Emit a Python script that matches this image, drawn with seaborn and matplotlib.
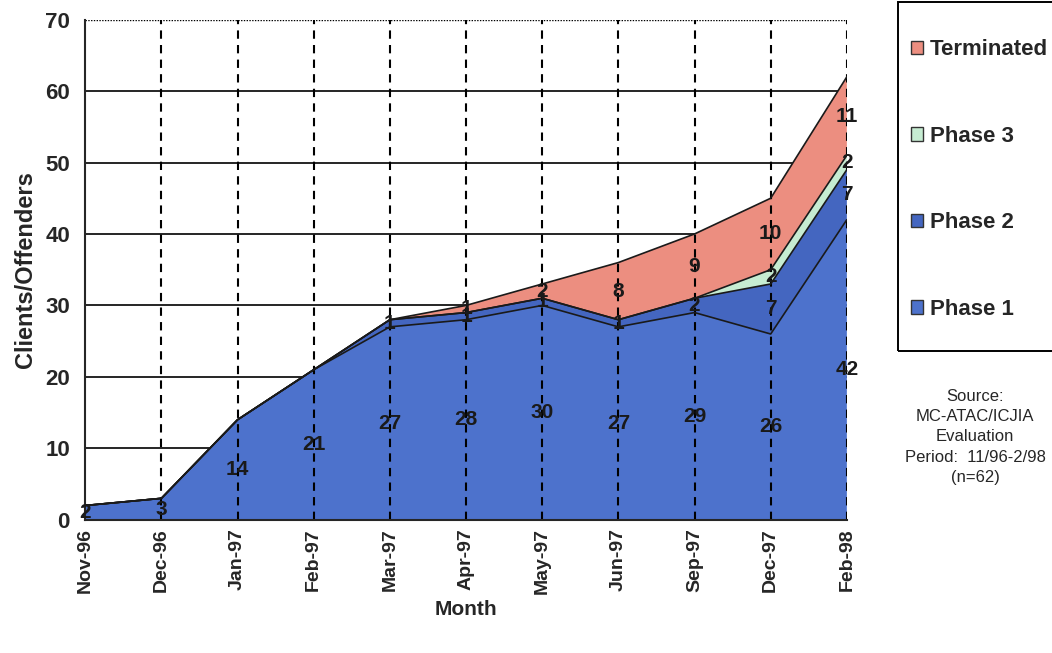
import numpy as np
import pandas as pd
import matplotlib
matplotlib.use("Agg")
import matplotlib.pyplot as plt
import seaborn as sns

months = ["Nov-96", "Dec-96", "Jan-97", "Feb-97", "Mar-97", "Apr-97",
          "May-97", "Jun-97", "Sep-97", "Dec-97", "Feb-98"]
phase1 = [2, 3, 14, 21, 27, 28, 30, 27, 29, 26, 42]
phase2 = [0, 0, 0, 0, 1, 1, 1, 1, 2, 7, 7]
phase3 = [0, 0, 0, 0, 0, 0, 0, 0, 0, 2, 2]
terminated = [0, 0, 0, 0, 0, 1, 2, 8, 9, 10, 11]

series = ["Phase 1", "Phase 2", "Phase 3", "Terminated"]
colors = ["#4d72cc", "#4466c0", "#c6ecd2", "#ec8e80"]

sns.set_style("white")
plt.rcParams["font.family"] = ["Liberation Sans", "DejaVu Sans"]

df = pd.DataFrame({"Month": months, "Phase 1": phase1, "Phase 2": phase2,
                   "Phase 3": phase3, "Terminated": terminated})
x = np.arange(len(months))
vals = df[series].to_numpy().T
cum = np.cumsum(vals, axis=0)

fig = plt.figure(figsize=(10.52, 6.53), dpi=100)
ax = fig.add_axes([0.081, 0.204, 0.724, 0.766])

ax.stackplot(x, vals, colors=colors, edgecolor="none", zorder=1)
for i in range(len(series)):
    sns.lineplot(x=x, y=cum[i], ax=ax, color="#1a1a1a", linewidth=1.2, zorder=3)

# grid
for yv in range(10, 70, 10):
    ax.axhline(yv, color="black", linewidth=1.2, zorder=0.5)
ax.axhline(70, color="black", linewidth=1, linestyle=(0, (1, 1)), zorder=0.5)
for xi in x[1:]:
    ax.axvline(xi, color="black", linewidth=1.5, linestyle=(0, (4, 3)), zorder=2)

# value labels in the middle of each band
lo = np.vstack([np.zeros(len(x)), cum[:-1]])
for i in range(len(series)):
    for j in range(len(x)):
        v = vals[i][j]
        if v == 0:
            continue
        ax.text(x[j], (lo[i][j] + cum[i][j]) / 2, str(v), ha="center", va="center",
                fontsize=15, fontweight="bold", color="#1a1a1a", zorder=4)

ax.set_xlim(0, len(x) - 1)
ax.set_ylim(0, 70)
ax.set_yticks(range(0, 80, 10))
ax.set_xticks(x)
ax.set_xticklabels(months, rotation=90, fontsize=14, fontweight="bold")
ax.tick_params(axis="y", labelsize=16, length=7, width=1.2, direction="out", pad=4)
ax.tick_params(axis="x", length=0, pad=6)
for lab in ax.get_yticklabels():
    lab.set_fontweight("bold")
ax.set_ylabel("Clients/Offenders", fontsize=17, fontweight="bold", labelpad=6)
ax.set_xlabel("Month", fontsize=15, fontweight="bold", labelpad=4)
for s in ["top", "right"]:
    ax.spines[s].set_visible(False)
ax.spines["left"].set_linewidth(1.5)
ax.spines["bottom"].set_linewidth(1.5)

# legend box
box = plt.Rectangle((0.854, 0.462), 0.2, 0.535, transform=fig.transFigure,
                    facecolor="none", edgecolor="black", linewidth=1.4)
fig.patches.append(box)
handles = [plt.Rectangle((0, 0), 1, 1, facecolor=colors[i], edgecolor="#333333")
           for i in range(len(series))][::-1]
leg = fig.legend(handles, series[::-1], loc="upper left",
                 bbox_to_anchor=(0.866, 0.94), frameon=False,
                 prop={"size": 16, "weight": "bold"}, labelspacing=2.95,
                 handlelength=0.55, handleheight=0.55, handletextpad=0.3,
                 borderpad=0, borderaxespad=0)

fig.text(0.927, 0.405, "Source:\nMC-ATAC/ICJIA\nEvaluation\nPeriod:  11/96-2/98\n(n=62)",
         ha="center", va="top", fontsize=12, linespacing=1.45)

fig.savefig("out.png", dpi=100)
